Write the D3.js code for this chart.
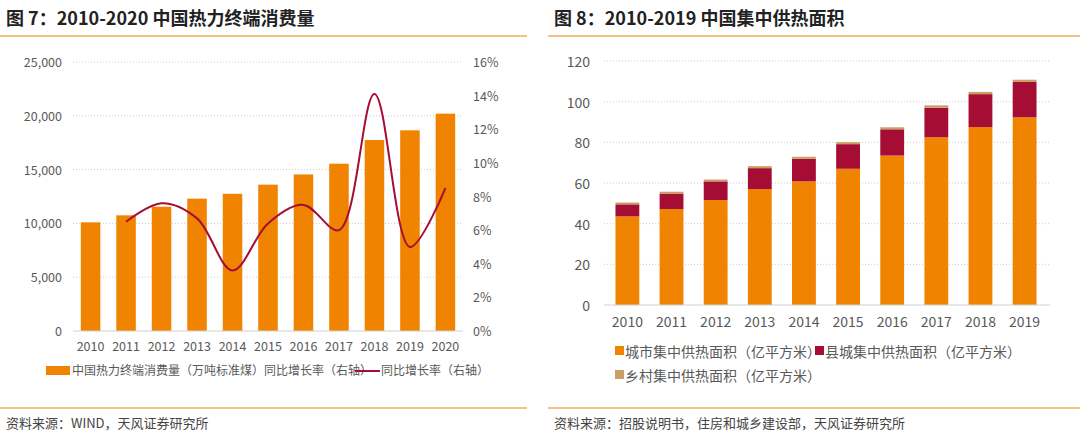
<!DOCTYPE html>
<html><head><meta charset="utf-8">
<script src="https://cdn.jsdelivr.net/npm/d3@7"></script>
<style>
body{margin:0;background:#fff;font-family:"Noto Sans CJK SC","Noto Sans",sans-serif}
</style></head><body>
<svg id="c" width="1080" height="437"></svg>
<script>
var years1=["2010","2011","2012","2013","2014","2015","2016","2017","2018","2019","2020"]
var consumption=[10100,10750,11550,12300,12750,13600,14550,15550,17750,18650,20200]
var growthYears=["2011","2012","2013","2014","2015","2016","2017","2018","2019","2020"]
var growth=[6.5,7.6,6.7,3.6,6.4,7.5,6.0,14.1,5.0,8.5]
var leftTicks=[0,5000,10000,15000,20000,25000]
var rightTicks=[0,2,4,6,8,10,12,14,16]

var years2=["2010","2011","2012","2013","2014","2015","2016","2017","2018","2019"]
var city=[43.6,47.2,51.6,57.0,60.8,67.0,73.5,82.5,87.5,92.3]
var county=[5.9,7.6,9.2,10.3,11.1,12.1,12.9,14.5,16.2,17.4]
var rural=[0.9,0.9,0.9,1.0,1.0,1.0,1.0,1.2,1.1,1.1]
var rightChartTicks=[0,20,40,60,80,100,120]

var ORANGE="#F08300", RED="#A50D34", TAN="#C9A063", GREY="#595959"
var svg=d3.select("#c")

function header(x0,x1,title,source){
	svg.append("text").attr("x",x0+6).attr("y",25).attr("font-size",18).attr("font-weight","bold").attr("fill","#222").text(title)
	svg.append("line").attr("x1",x0).attr("x2",x1).attr("y1",36).attr("y2",36).attr("stroke",ORANGE).attr("stroke-width",1.2)
	svg.append("line").attr("x1",x0).attr("x2",x1).attr("y1",408).attr("y2",408).attr("stroke",ORANGE).attr("stroke-width",1.2)
	svg.append("text").attr("x",x0+6).attr("y",428).attr("font-size",13).attr("fill","#444").text(source)
}
header(0,527,"图 7：2010-2020 中国热力终端消费量","资料来源：WIND，天风证券研究所")
header(548,1080,"图 8：2010-2019 中国集中供热面积","资料来源：招股说明书，住房和城乡建设部，天风证券研究所")

// left chart
var x1=d3.scaleBand().domain(years1).range([73,463]).paddingInner(0.45).paddingOuter(0.22)
var y1=d3.scaleLinear().domain([0,25000]).range([331,62])
var y1r=d3.scaleLinear().domain([0,16]).range([331,62])
var g1=svg.append("g")
leftTicks.forEach(function(t){
	if(t>0) g1.append("line").attr("x1",73).attr("x2",463).attr("y1",y1(t)).attr("y2",y1(t)).attr("stroke","#ccc").attr("stroke-dasharray","1,2")
	g1.append("text").attr("x",62).attr("y",y1(t)+5).attr("text-anchor","end").attr("font-size",12.5).attr("fill",GREY).text(d3.format(",")(t))
})
rightTicks.forEach(function(t){
	g1.append("text").attr("x",473).attr("y",y1r(t)+5).attr("font-size",12.5).attr("fill",GREY).text(t+"%")
})
g1.selectAll("rect").data(consumption).enter().append("rect")
	.attr("x",function(d,i){return x1(years1[i])}).attr("width",x1.bandwidth())
	.attr("y",function(d){return y1(d)}).attr("height",function(d){return 331-y1(d)}).attr("fill",ORANGE)
g1.append("line").attr("x1",73).attr("x2",463).attr("y1",331).attr("y2",331).attr("stroke","#d0d0d0")
years1.forEach(function(yr){
	g1.append("text").attr("x",x1(yr)+x1.bandwidth()/2).attr("y",351).attr("text-anchor","middle").attr("font-size",12.5).attr("fill",GREY).text(yr)
})
var line=d3.line().curve(d3.curveCatmullRom.alpha(0.5))
	.x(function(d,i){return x1(growthYears[i])+x1.bandwidth()/2}).y(function(d){return y1r(d)})
g1.append("path").datum(growth).attr("d",line).attr("fill","none").attr("stroke",RED).attr("stroke-width",2)
// legend
g1.append("rect").attr("x",46).attr("y",366).attr("width",24).attr("height",9).attr("fill",ORANGE)
g1.append("text").attr("x",72).attr("y",375).attr("font-size",12).attr("fill",GREY).text("中国热力终端消费量（万吨标准煤）同比增长率（右轴）")
g1.append("line").attr("x1",355).attr("x2",380).attr("y1",371).attr("y2",371).attr("stroke",RED).attr("stroke-width",2)
g1.append("text").attr("x",381).attr("y",375).attr("font-size",12).attr("fill",GREY).text("同比增长率（右轴）")

// right chart
var x2=d3.scaleBand().domain(years2).range([604,1048]).paddingInner(0.46).paddingOuter(0.26)
var y2=d3.scaleLinear().domain([0,120]).range([305,61])
var g2=svg.append("g")
rightChartTicks.forEach(function(t){
	if(t>0) g2.append("line").attr("x1",604).attr("x2",1050).attr("y1",y2(t)).attr("y2",y2(t)).attr("stroke","#ccc").attr("stroke-dasharray","1,2")
	g2.append("text").attr("x",590).attr("y",y2(t)+6).attr("text-anchor","end").attr("font-size",14).attr("fill",GREY).text(t)
})
var stack=d3.stack().keys(["city","county","rural"])(years2.map(function(yr,i){return {year:yr,city:city[i],county:county[i],rural:rural[i]}}))
var cols=[ORANGE,RED,TAN]
stack.forEach(function(s,k){
	g2.selectAll(null).data(s).enter().append("rect")
		.attr("x",function(d){return x2(d.data.year)}).attr("width",x2.bandwidth())
		.attr("y",function(d){return y2(d[1])}).attr("height",function(d){return y2(d[0])-y2(d[1])}).attr("fill",cols[k])
})
g2.append("line").attr("x1",604).attr("x2",1050).attr("y1",305).attr("y2",305).attr("stroke","#d0d0d0")
years2.forEach(function(yr){
	g2.append("text").attr("x",x2(yr)+x2.bandwidth()/2).attr("y",327).attr("text-anchor","middle").attr("font-size",14).attr("fill",GREY).text(yr)
})
var legends=[["城市集中供热面积（亿平方米）",615,357,ORANGE],["县城集中供热面积（亿平方米）",815,357,RED],["乡村集中供热面积（亿平方米）",615,381,TAN]]
legends.forEach(function(l){
	g2.append("rect").attr("x",l[1]).attr("y",l[2]-11).attr("width",9).attr("height",9).attr("fill",l[3])
	g2.append("text").attr("x",l[1]+10).attr("y",l[2]).attr("font-size",14).attr("fill",GREY).text(l[0])
})
</script>
</body></html>
